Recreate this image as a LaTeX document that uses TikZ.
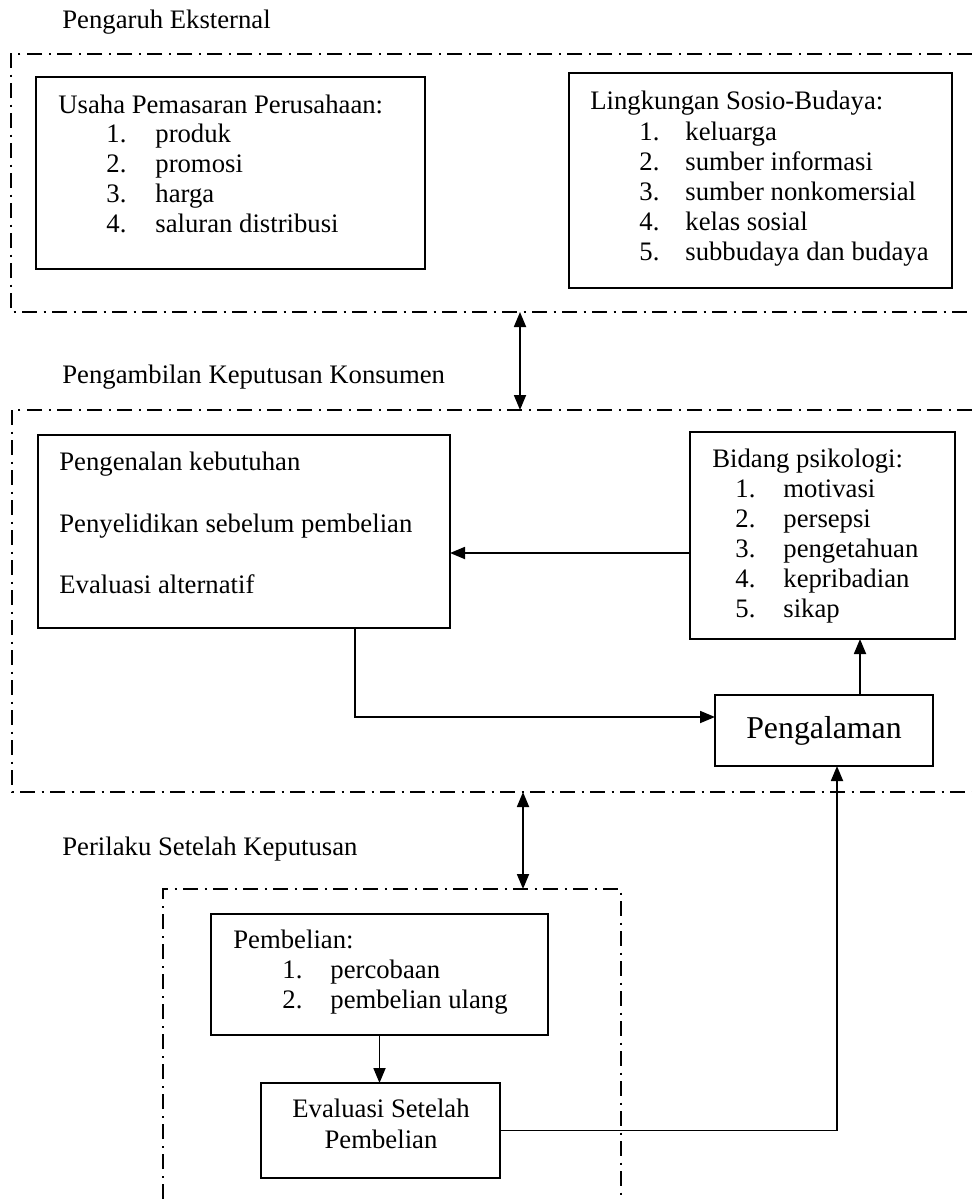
\documentclass[tikz,border=0pt]{standalone}
\usepackage{fontspec}
\setmainfont{Liberation Serif}
\usetikzlibrary{arrows.meta}
\newcommand\nf{\fontsize{13.35pt}{15pt}\selectfont}
\newcommand\bigfnt{\fontsize{15.9pt}{18pt}\selectfont}
\begin{document}
\begin{tikzpicture}[x=0.5pt,y=-0.5pt,
  box/.style={draw, line width=1pt, inner sep=0pt, outer sep=0pt},
  txt/.style={inner sep=0pt, anchor=base west, font=\nf},
  ctxt/.style={inner sep=0pt, anchor=base, font=\nf},
  frame/.style={line width=0.75pt, dash pattern=on 7.5pt off 3.25pt on 1pt off 3.25pt},
  conn/.style={line width=0.9pt},
  arr/.style={conn, -{Triangle[length=7.5pt,width=6pt]}},
  darr/.style={conn, {Triangle[length=7.5pt,width=6pt]}-{Triangle[length=7.5pt,width=6pt]}}]
\useasboundingbox (0,0) rectangle (972,1199);

% dashed frames
\draw[frame] (972,54) -- (11,54) -- (11,312) -- (972,312);
\draw[frame] (972,410) -- (12,410) -- (12,792) -- (972,792);
\draw[frame] (163,1199) -- (163,889) -- (621,889) -- (621,1199);

% titles
\node[txt] (t1) at (62,28) {Pengaruh Eksternal};
\node[txt] (t2) at (62,383) {Pengambilan Keputusan Konsumen};
\node[txt] (t3) at (62,855) {Perilaku Setelah Keputusan};

% Usaha box
\node[box, minimum width=194.5pt, minimum height=96pt] (usaha) at (230.5,173) {};
\node[txt] (u0) at (58,113) {Usaha Pemasaran Perusahaan:};
\node[txt] (u1n) at (106,142) {1.}; \node[txt] (u1) at (155,142) {produk};
\node[txt] (u2n) at (106,172) {2.}; \node[txt] (u2) at (155,172) {promosi};
\node[txt] (u3n) at (106,202) {3.}; \node[txt] (u3) at (155,202) {harga};
\node[txt] (u4n) at (106,232) {4.}; \node[txt] (u4) at (155,232) {saluran distribusi};

% Lingkungan box
\node[box, minimum width=191.5pt, minimum height=107.5pt] (ling) at (760.5,180.5) {};
\node[txt] (l0) at (590,109) {Lingkungan Sosio-Budaya:};
\node[txt] (l1n) at (639,140) {1.}; \node[txt] (l1) at (685,140) {keluarga};
\node[txt] (l2n) at (639,170) {2.}; \node[txt] (l2) at (685,170) {sumber informasi};
\node[txt] (l3n) at (639,200) {3.}; \node[txt] (l3) at (685,200) {sumber nonkomersial};
\node[txt] (l4n) at (639,230) {4.}; \node[txt] (l4) at (685,230) {kelas sosial};
\node[txt] (l5n) at (639,260) {5.}; \node[txt] (l5) at (685,260) {subbudaya dan budaya};

% Pengenalan box
\node[box, minimum width=206pt, minimum height=96.5pt] (peng) at (244,531.5) {};
\node[txt] (p1) at (59,470) {Pengenalan kebutuhan};
\node[txt] (p2) at (59,532) {Penyelidikan sebelum pembelian};
\node[txt] (p3) at (59,593) {Evaluasi alternatif};

% Bidang box
\node[box, minimum width=132.5pt, minimum height=103.5pt] (bidang) at (822.5,535.5) {};
\node[txt] (b0) at (712,467) {Bidang psikologi:};
\node[txt] (b1n) at (735,497) {1.}; \node[txt] (b1) at (783,497) {motivasi};
\node[txt] (b2n) at (735,527) {2.}; \node[txt] (b2) at (783,527) {persepsi};
\node[txt] (b3n) at (735,557) {3.}; \node[txt] (b3) at (783,557) {pengetahuan};
\node[txt] (b4n) at (735,587) {4.}; \node[txt] (b4) at (783,587) {kepribadian};
\node[txt] (b5n) at (735,617) {5.}; \node[txt] (b5) at (783,617) {sikap};

% Pengalaman box
\node[box, minimum width=109pt, minimum height=35.5pt, font=\bigfnt] (pengal) at (824,730.5) {Pengalaman};

% Pembelian box
\node[box, minimum width=168.5pt, minimum height=60.5pt] (pemb) at (379.5,974.5) {};
\node[txt] (m0) at (233,948) {Pembelian:};
\node[txt] (m1n) at (282,978) {1.}; \node[txt] (m1) at (330,978) {percobaan};
\node[txt] (m2n) at (282,1008) {2.}; \node[txt] (m2) at (330,1008) {pembelian ulang};

% Evaluasi box
\node[box, minimum width=119.5pt, minimum height=47.5pt] (eval) at (380.5,1130.5) {};
\node[ctxt] (e1) at (381,1117) {Evaluasi Setelah};
\node[ctxt] (e2) at (381,1148) {Pembelian};

% connectors
\coordinate (a1) at (520,312);
\coordinate (a2) at (520,410);
\coordinate (c1) at (523,792);
\coordinate (c2) at (523,889);
\draw[darr] (a1) -- (a2);
\draw[darr] (c1) -- (c2);
\draw[arr] ([yshift=-8.75pt]bidang.west) -- ([yshift=-8.75pt]bidang.west -| peng.east);
\draw[arr] ([xshift=55.5pt]peng.south) |- ([yshift=6.75pt]pengal.west);
\draw[arr] ([xshift=18pt]pengal.north) -- ([xshift=18pt]pengal.north |- bidang.south);
\draw[arr] (eval.east) -| ([xshift=6.5pt]pengal.south);
\draw[arr] (pemb.south) -- (pemb.south |- eval.north);
\end{tikzpicture}
\end{document}
